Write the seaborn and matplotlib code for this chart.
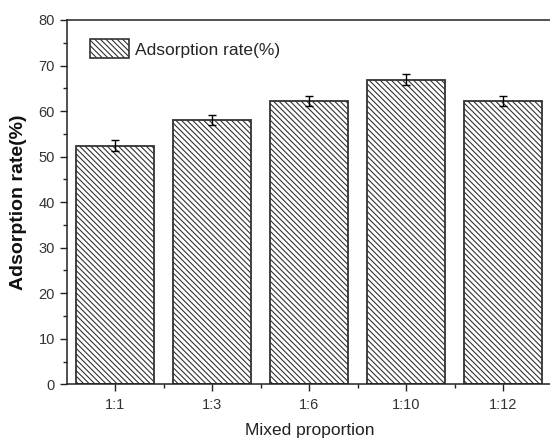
import matplotlib
matplotlib.use("Agg")
import matplotlib.pyplot as plt
import pandas as pd
import seaborn as sns
from matplotlib.patches import Patch
from matplotlib.ticker import FixedLocator, MultipleLocator

# values
proportions = ["1:1", "1:3", "1:6", "1:10", "1:12"]
adsorption_rate = [52.4, 58.0, 62.2, 66.9, 62.2]
rate_error = [1.2, 1.1, 1.1, 1.2, 1.1]

HATCH = "\\" * 6

df = pd.DataFrame({"proportion": proportions, "rate": adsorption_rate})

sns.set_style("ticks")
plt.rcParams["font.family"] = ["Liberation Sans", "DejaVu Sans"]
plt.rcParams["hatch.linewidth"] = 0.8
plt.rcParams["hatch.color"] = "#2a2a2a"

fig = plt.figure(figsize=(5.5, 4.4), dpi=100)
ax = fig.add_axes([0.1213, 0.1266, 0.882, 0.828])

sns.barplot(data=df, x="proportion", y="rate", order=proportions, width=0.8,
            color="white", edgecolor="#333333", linewidth=1.3, ax=ax)
for bar in ax.patches:
    bar.set_hatch(HATCH)

ax.errorbar(range(len(proportions)), adsorption_rate, yerr=rate_error, fmt="none",
            ecolor="black", elinewidth=1.0, capsize=3, capthick=1.0)

ax.set_xlim(-0.5, 4.5)
ax.set_ylim(0, 80)
ax.yaxis.set_major_locator(MultipleLocator(10))
ax.yaxis.set_minor_locator(MultipleLocator(5))
ax.xaxis.set_minor_locator(FixedLocator([0.5, 1.5, 2.5, 3.5]))
ax.tick_params(which="major", length=5, width=1, color="#222222",
               labelsize=10.5, labelcolor="#333333", direction="out")
ax.tick_params(which="minor", length=3, width=1, color="#222222", direction="out")
ax.tick_params(axis="x", which="major", pad=5)

for side in ax.spines.values():
    side.set_visible(True)
    side.set_linewidth(1.1)
    side.set_color("#222222")

ax.set_xlabel("Mixed proportion", fontsize=12.5, color="#222222", labelpad=8)
ax.set_ylabel("Adsorption rate(%)", fontsize=14, fontweight="bold", color="#111111",
              labelpad=8)

handle = Patch(facecolor="white", edgecolor="#333333", hatch=HATCH, linewidth=1.2)
ax.legend([handle], ["Adsorption rate(%)"], loc="upper left", frameon=False,
          fontsize=12.5, handlelength=2.3, handleheight=1.3, handletextpad=0.3,
          bbox_to_anchor=(0.022, 0.98), borderaxespad=0.3)

fig.savefig("out.png", dpi=100)
